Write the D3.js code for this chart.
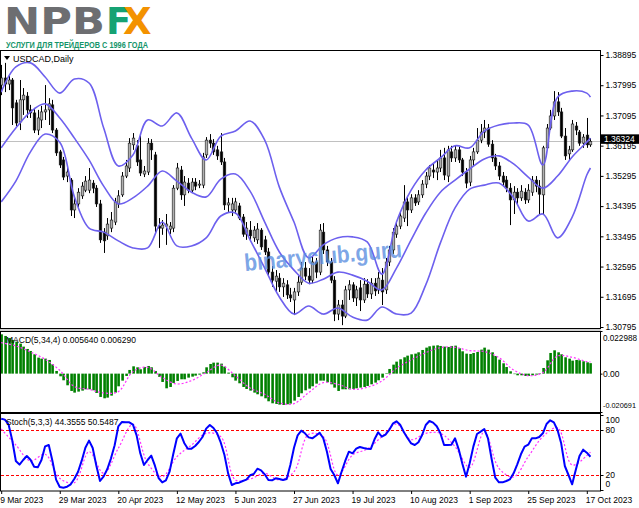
<!DOCTYPE html>
<html><head><meta charset="utf-8">
<script src="https://cdn.jsdelivr.net/npm/d3@7"></script>
<style>html,body{margin:0;padding:0;background:#fff;}svg{display:block;}</style>
</head><body>
<svg id="c" width="639" height="508"></svg>
<script>
// ---------- DATA ----------
const dateIdx = [0,16,32,48,64,80,96,112,128,144,160];
const dateLabels = ['9 Mar 2023','29 Mar 2023','20 Apr 2023','12 May 2023','5 Jun 2023','27 Jun 2023','19 Jul 2023','10 Aug 2023','1 Sep 2023','25 Sep 2023','17 Oct 2023'];
const priceTicks = [1.38895,1.37995,1.37095,1.36195,1.35295,1.34395,1.33495,1.32595,1.31695,1.30795];
const macdTicks = [0.022988,0,-0.020691];
const stochTicks = [100,80,20,0];
const lastPrice = 1.36324;

const open = [
1.3800,1.3821,1.3803,1.3815,1.3747,1.3690,1.3756,1.3767,1.3726,1.3717,
1.3666,1.3696,1.3720,1.3726,1.3741,1.3666,1.3601,1.3577,1.3529,1.3517,
1.3428,1.3446,1.3470,1.3487,1.3487,1.3508,1.3493,1.3446,1.3362,1.3351,
1.3374,1.3392,1.3446,1.3473,1.3529,1.3553,1.3622,1.3619,1.3577,1.3535,
1.3541,1.3627,1.3592,1.3380,1.3374,1.3380,1.3371,1.3374,1.3493,1.3547,
1.3473,1.3508,1.3487,1.3511,1.3502,1.3502,1.3592,1.3636,1.3627,1.3607,
1.3601,1.3571,1.3443,1.3428,1.3428,1.3440,1.3407,1.3356,1.3368,1.3345,
1.3339,1.3368,1.3339,1.3303,1.3243,1.3216,1.3225,1.3199,1.3205,1.3175,
1.3160,1.3184,1.3213,1.3255,1.3231,1.3219,1.3273,1.3243,1.3362,1.3309,
1.3273,1.3219,1.3118,1.3145,1.3112,1.3190,1.3205,1.3166,1.3196,1.3160,
1.3207,1.3178,1.3210,1.3190,1.3219,1.3190,1.3273,1.3309,1.3356,1.3380,
1.3404,1.3452,1.3428,1.3464,1.3452,1.3473,1.3505,1.3529,1.3547,1.3541,
1.3553,1.3583,1.3529,1.3601,1.3583,1.3607,1.3577,1.3541,1.3511,1.3577,
1.3601,1.3636,1.3660,1.3672,1.3624,1.3583,1.3559,1.3529,1.3517,1.3493,
1.3458,1.3481,1.3464,1.3481,1.3458,1.3481,1.3517,1.3499,1.3473,1.3613,
1.3672,1.3708,1.3750,1.3720,1.3648,1.3595,1.3607,1.3678,1.3660,1.3627,
1.3651,1.3622];
const high = [
1.3860,1.3866,1.3827,1.3821,1.3756,1.3815,1.3791,1.3779,1.3741,1.3732,
1.3726,1.3738,1.3800,1.3761,1.3756,1.3672,1.3607,1.3586,1.3562,1.3523,
1.3464,1.3493,1.3511,1.3529,1.3553,1.3517,1.3502,1.3458,1.3374,1.3404,
1.3422,1.3464,1.3487,1.3541,1.3577,1.3642,1.3657,1.3636,1.3657,1.3559,
1.3642,1.3639,1.3601,1.3404,1.3398,1.3416,1.3392,1.3502,1.3568,1.3559,
1.3529,1.3523,1.3523,1.3523,1.3517,1.3598,1.3645,1.3654,1.3639,1.3619,
1.3657,1.3583,1.3464,1.3464,1.3464,1.3449,1.3416,1.3392,1.3395,1.3380,
1.3389,1.3374,1.3351,1.3315,1.3261,1.3249,1.3240,1.3225,1.3219,1.3196,
1.3196,1.3231,1.3273,1.3273,1.3255,1.3288,1.3285,1.3386,1.3389,1.3321,
1.3285,1.3231,1.3160,1.3160,1.3202,1.3219,1.3213,1.3202,1.3219,1.3225,
1.3222,1.3225,1.3225,1.3243,1.3255,1.3285,1.3321,1.3374,1.3392,1.3422,
1.3502,1.3470,1.3475,1.3475,1.3487,1.3517,1.3541,1.3562,1.3568,1.3577,
1.3607,1.3613,1.3619,1.3619,1.3619,1.3616,1.3583,1.3553,1.3589,1.3613,
1.3672,1.3684,1.3696,1.3684,1.3636,1.3595,1.3571,1.3541,1.3529,1.3508,
1.3499,1.3493,1.3502,1.3493,1.3505,1.3529,1.3529,1.3517,1.3619,1.3684,
1.3726,1.3782,1.3779,1.3732,1.3672,1.3619,1.3696,1.3690,1.3666,1.3654,
1.3702,1.3642];
const low = [
1.3770,1.3779,1.3785,1.3681,1.3678,1.3666,1.3711,1.3702,1.3702,1.3657,
1.3651,1.3672,1.3696,1.3681,1.3657,1.3589,1.3553,1.3517,1.3511,1.3410,
1.3404,1.3437,1.3461,1.3481,1.3478,1.3478,1.3437,1.3330,1.3300,1.3339,
1.3362,1.3383,1.3434,1.3467,1.3523,1.3541,1.3607,1.3559,1.3529,1.3526,
1.3532,1.3577,1.3362,1.3315,1.3354,1.3324,1.3356,1.3362,1.3487,1.3458,
1.3440,1.3478,1.3481,1.3487,1.3493,1.3493,1.3583,1.3613,1.3592,1.3577,
1.3562,1.3428,1.3422,1.3410,1.3416,1.3398,1.3348,1.3339,1.3339,1.3333,
1.3327,1.3309,1.3294,1.3234,1.3199,1.3181,1.3184,1.3169,1.3163,1.3154,
1.3115,1.3172,1.3205,1.3219,1.3207,1.3210,1.3225,1.3234,1.3297,1.3261,
1.3210,1.3097,1.3100,1.3085,1.3106,1.3160,1.3154,1.3142,1.3127,1.3151,
1.3166,1.3163,1.3172,1.3178,1.3145,1.3178,1.3261,1.3297,1.3345,1.3371,
1.3392,1.3380,1.3419,1.3440,1.3443,1.3464,1.3493,1.3517,1.3523,1.3517,
1.3541,1.3517,1.3511,1.3571,1.3571,1.3568,1.3529,1.3493,1.3499,1.3559,
1.3595,1.3627,1.3642,1.3616,1.3571,1.3547,1.3517,1.3499,1.3481,1.3383,
1.3416,1.3443,1.3455,1.3446,1.3449,1.3470,1.3481,1.3413,1.3413,1.3607,
1.3666,1.3696,1.3708,1.3642,1.3577,1.3574,1.3601,1.3651,1.3619,1.3613,
1.3613,1.3616];
const close = [
1.3821,1.3803,1.3815,1.3732,1.3687,1.3756,1.3770,1.3726,1.3717,1.3666,
1.3702,1.3720,1.3726,1.3744,1.3666,1.3598,1.3562,1.3526,1.3541,1.3428,
1.3446,1.3481,1.3499,1.3514,1.3517,1.3493,1.3446,1.3339,1.3336,1.3386,
1.3398,1.3452,1.3470,1.3529,1.3559,1.3627,1.3642,1.3571,1.3538,1.3544,
1.3627,1.3607,1.3380,1.3374,1.3383,1.3386,1.3380,1.3493,1.3553,1.3473,
1.3511,1.3487,1.3511,1.3499,1.3505,1.3586,1.3636,1.3627,1.3601,1.3589,
1.3571,1.3443,1.3449,1.3446,1.3452,1.3404,1.3356,1.3374,1.3351,1.3368,
1.3371,1.3318,1.3303,1.3243,1.3219,1.3231,1.3199,1.3210,1.3175,1.3166,
1.3184,1.3213,1.3255,1.3231,1.3219,1.3273,1.3243,1.3368,1.3309,1.3273,
1.3219,1.3118,1.3145,1.3112,1.3190,1.3205,1.3166,1.3190,1.3160,1.3207,
1.3178,1.3210,1.3187,1.3225,1.3184,1.3273,1.3309,1.3362,1.3380,1.3410,
1.3452,1.3428,1.3464,1.3449,1.3473,1.3505,1.3529,1.3553,1.3541,1.3553,
1.3583,1.3532,1.3607,1.3583,1.3607,1.3577,1.3541,1.3508,1.3577,1.3601,
1.3636,1.3660,1.3672,1.3624,1.3583,1.3559,1.3529,1.3511,1.3493,1.3458,
1.3481,1.3464,1.3484,1.3458,1.3487,1.3517,1.3499,1.3475,1.3613,1.3672,
1.3708,1.3750,1.3720,1.3648,1.3589,1.3607,1.3684,1.3666,1.3627,1.3645,
1.3622,1.36324];

// Bollinger bands, read every 4 bars
const bandIdx = [0,4,8,12,16,20,24,28,32,36,40,44,48,52,56,60,64,68,72,76,80,84,88,92,96,100,104,108,112,116,120,124,128,132,136,140,144,148,152,156,160,161];
const bbUpper = [1.3779,1.3854,1.3866,1.3824,1.3776,1.3818,1.3806,1.3672,1.3559,1.3592,1.3696,1.3678,1.3717,1.3642,1.3577,1.3648,1.3663,1.3693,1.3636,1.3496,1.3392,1.3285,1.3324,1.3345,1.3348,1.3333,1.3237,1.3392,1.3487,1.3547,1.3583,1.3619,1.3613,1.3663,1.3681,1.3687,1.3681,1.3562,1.3764,1.3782,1.3776,1.3764];
const bbMid = [1.3613,1.3672,1.3720,1.3744,1.3702,1.3642,1.3577,1.3499,1.3446,1.3464,1.3499,1.3544,1.3514,1.3481,1.3467,1.3520,1.3535,1.3484,1.3392,1.3303,1.3249,1.3210,1.3222,1.3243,1.3234,1.3216,1.3190,1.3255,1.3339,1.3419,1.3481,1.3517,1.3550,1.3580,1.3589,1.3565,1.3526,1.3493,1.3529,1.3586,1.3630,1.3642];
const bbLower = [1.3452,1.3514,1.3601,1.3654,1.3630,1.3467,1.3374,1.3362,1.3336,1.3315,1.3315,1.3392,1.3321,1.3321,1.3345,1.3410,1.3419,1.3339,1.3255,1.3169,1.3118,1.3142,1.3118,1.3136,1.3109,1.3100,1.3139,1.3118,1.3121,1.3205,1.3330,1.3434,1.3490,1.3502,1.3508,1.3464,1.3395,1.3416,1.3345,1.3407,1.3532,1.3553];

// MACD(5,34,4)
const macdHist = [
0.02120,0.02031,0.01923,0.01815,0.01725,0.01617,0.01456,0.01330,0.01222,0.01042,
0.00863,0.00809,0.00809,0.00737,0.00503,0.00144,-0.00144,-0.00359,-0.00629,-0.00934,
-0.01024,-0.00970,-0.00916,-0.00845,-0.00845,-0.00899,-0.01042,-0.01258,-0.01330,-0.01294,
-0.01186,-0.01024,-0.00683,-0.00377,-0.00126,0.00198,0.00395,0.00341,0.00234,0.00359,
0.00413,0.00341,0.00144,-0.00180,-0.00449,-0.00791,-0.00719,-0.00503,-0.00395,-0.00305,
-0.00305,-0.00216,-0.00162,-0.00108,-0.00054,0.00072,0.00341,0.00521,0.00593,0.00593,
0.00539,0.00377,0.00054,-0.00198,-0.00377,-0.00521,-0.00719,-0.00827,-0.00916,-0.01024,
-0.01114,-0.01222,-0.01330,-0.01492,-0.01599,-0.01635,-0.01671,-0.01689,-0.01653,-0.01617,
-0.01456,-0.01258,-0.01060,-0.00899,-0.00809,-0.00683,-0.00539,-0.00377,-0.00377,-0.00467,
-0.00575,-0.00755,-0.00934,-0.00845,-0.00845,-0.00845,-0.00827,-0.00791,-0.00755,-0.00719,
-0.00665,-0.00575,-0.00485,-0.00359,-0.00216,0.00020,0.00252,0.00485,0.00647,0.00773,
0.00881,0.00970,0.01042,0.01078,0.01150,0.01276,0.01402,0.01474,0.01509,0.01527,
0.01492,0.01456,0.01438,0.01492,0.01509,0.01366,0.01204,0.01078,0.01060,0.01114,
0.01168,0.01294,0.01402,0.01294,0.01150,0.00952,0.00755,0.00557,0.00359,0.00126,
-0.00018,-0.00090,-0.00090,-0.00126,-0.00126,-0.00090,-0.00054,0.00018,0.00305,0.00719,
0.01114,0.01258,0.01150,0.01042,0.00881,0.00809,0.00701,0.00737,0.00719,0.00665,
0.00611,0.00564];
const macdSignal = [0.01671,0.01492,0.01168,0.00773,0.00180,-0.00701,-0.00845,-0.01042,-0.00970,0.00108,0.00341,-0.00216,-0.00557,-0.00377,0.00054,0.00467,-0.00126,-0.00773,-0.01114,-0.01581,-0.01617,-0.01024,-0.00485,-0.00575,-0.00845,-0.00737,-0.00395,0.00288,0.00737,0.01132,0.01402,0.01420,0.01240,0.01186,0.00863,0.00198,-0.00108,0.00054,0.00952,0.00881,0.00647,0.00629];

// Stochastic(5,3,3)
const stochK = [
95.1,93.8,87.6,66.7,38.7,33.8,40,45.3,40.4,31.1,
30.2,40,58.2,60,38.7,13.8,4,3.1,4.4,7.6,
15.1,24.4,39.1,56.4,65.8,56,32.4,12,18.2,28,
42.2,59.6,84.9,90.7,90.2,90.2,87.1,72.9,48.9,33.3,
40,45.8,32.4,16,10.2,12.9,24.4,47.6,68.9,75.1,
62.7,55.1,55.1,58.7,64,70.7,81.8,86.7,82.7,75.6,
63.1,46.7,22.2,6.7,8.9,9.8,12,13.8,19.6,21.3,
28.4,26.2,20.9,13.3,12.9,15.6,14.7,13.3,14.7,33.3,
56.4,72.9,79.1,75.6,70.2,68.9,72.4,76.4,68.9,51.1,
28,20,8.9,24.4,38.7,51.1,48.9,55.1,57.3,56,
55.1,54.7,67.6,76.9,71.1,73.8,80,88.4,91.6,87.1,
77.3,69.3,62.2,60,63.6,73.3,86.7,92,89.8,84.9,
75.6,60,60,60.4,68.9,54.2,35.1,17.8,35.6,57.8,
74.7,77.8,81.3,68.9,41.3,16.4,10.2,10.2,12,14.2,
22.2,34.2,47.6,57.8,60.4,68.9,68.9,70.7,75.6,88,
92.9,90.2,80,62.2,32,20,7.6,27,45.3,53.8,
49.8,44.36];
const stochD = [81.3,60,38.7,47.6,15.6,9.8,51.1,22.2,55.6,87.6,35.6,17.8,44.4,60,75.6,71.1,13.3,14.7,22.2,13.3,24.4,74.2,71.1,20,46.7,54.7,71.1,88,67.1,75.6,75.6,57.8,30.2,77.8,28.9,17.3,44.4,71.1,83,33.3,45.8,50.55];

// ---------- DRAWING ----------
const svg = d3.select('#c');
const FONT = '"Liberation Sans", Arial, sans-serif';
const n = close.length;

const x = d3.scaleLinear().domain([0, n - 1]).range([1.2, 1.2 + (n - 1) * 3.66]);
const yP = d3.scaleLinear().domain([1.30795, 1.38895]).range([327, 55]);
const yM = d3.scaleLinear().domain([-0.020691, 0.022988]).range([412, 331]);
const yS = d3.scaleLinear().domain([0, 100]).range([490, 415]);

const defs = svg.append('defs');
function clip(id, y0, y1) {
  defs.append('clipPath').attr('id', id).append('rect')
    .attr('x', 1).attr('y', y0).attr('width', 599).attr('height', y1 - y0);
}
clip('cm', 51, 328); clip('cd', 332, 412); clip('cs', 414, 491);

// Logo
svg.append('text').attr('x', 4).attr('y', 34).text('NPB')
  .attr('font-family', '"DejaVu Sans", sans-serif').attr('font-weight', 'bold')
  .attr('font-size', 37).attr('fill', '#6d6e71')
  .attr('textLength', 101).attr('lengthAdjust', 'spacingAndGlyphs');
svg.append('text').attr('x', 106).attr('y', 34).text('F')
  .attr('font-family', '"DejaVu Sans", sans-serif').attr('font-weight', 'bold')
  .attr('font-size', 37).attr('fill', '#16a273');
svg.append('text').attr('x', 123).attr('y', 34).text('X')
  .attr('font-family', '"DejaVu Sans", sans-serif').attr('font-weight', 'bold')
  .attr('font-size', 37).attr('fill', '#f39200');
svg.append('text').attr('x', 6).attr('y', 47.5).text('УСЛУГИ ДЛЯ ТРЕЙДЕРОВ С 1996 ГОДА')
  .attr('font-family', FONT).attr('font-weight', 'bold').attr('font-size', 9.5)
  .attr('fill', '#14956a').attr('textLength', 142).attr('lengthAdjust', 'spacingAndGlyphs');

// Panel frames
svg.append('rect').attr('x', 0).attr('y', 328.5).attr('width', 601).attr('height', 3).attr('fill', '#d0d0d0');
svg.append('rect').attr('x', 0).attr('y', 412.5).attr('width', 601).attr('height', 1.5).attr('fill', '#d0d0d0');
[[50.5, 328.5], [331.5, 412.5], [413.5, 491]].forEach(([a, b]) => {
  svg.append('rect').attr('x', 0.5).attr('y', a).attr('width', 600).attr('height', b - a)
    .attr('fill', 'none').attr('stroke', '#000').attr('stroke-width', 1);
});

// ---- Main panel ----
const gm = svg.append('g').attr('clip-path', 'url(#cm)');
gm.append('line').attr('x1', 0).attr('x2', 600).attr('y1', Math.round(yP(lastPrice)) + 0.5).attr('y2', Math.round(yP(lastPrice)) + 0.5)
  .attr('stroke', '#c0c0c0').attr('stroke-width', 1);

svg.append('path').attr('d', 'M4,56 L10,56 L7,60 Z').attr('fill', '#000');
svg.append('text').attr('x', 13).attr('y', 61.5).text('USDCAD,Daily')
  .attr('font-family', FONT).attr('font-size', 9).attr('fill', '#000');

const idx = d3.range(n);
gm.selectAll('line.wick').data(idx).join('line')
  .attr('x1', i => Math.round(x(i)) + 0.5).attr('x2', i => Math.round(x(i)) + 0.5)
  .attr('y1', i => yP(high[i])).attr('y2', i => yP(low[i]))
  .attr('stroke', '#000').attr('stroke-width', 1);
gm.selectAll('rect.body').data(idx).join('rect')
  .attr('x', i => Math.round(x(i)) - 0.8)
  .attr('width', 2.6)
  .attr('y', i => Math.min(yP(open[i]), yP(close[i])))
  .attr('height', i => Math.max(1, Math.abs(yP(open[i]) - yP(close[i]))))
  .attr('fill', i => close[i] >= open[i] ? '#b0b0b0' : '#000')
  .attr('stroke', '#1a1a1a').attr('stroke-width', 0.6);

const bandLine = arr => d3.line().x((d, k) => x(bandIdx[k])).y(d => yP(d)).curve(d3.curveCatmullRom.alpha(0.5))(arr);
[bbUpper, bbMid, bbLower].forEach(arr => {
  gm.append('path').attr('d', bandLine(arr)).attr('fill', 'none')
    .attr('stroke', '#6d60ee').attr('stroke-width', 1.6);
});

svg.append('text').attr('x', 245).attr('y', 271).text('binaryclub.guru')
  .attr('transform', 'rotate(-5,245,271)')
  .attr('font-family', FONT).attr('font-weight', 'bold').attr('font-size', 24)
  .attr('fill', '#5a8ee0').attr('fill-opacity', 0.8)
  .attr('textLength', 158).attr('lengthAdjust', 'spacingAndGlyphs');

const axP = d3.axisRight(yP).tickValues(priceTicks).tickSize(3).tickPadding(2).tickFormat(d3.format('.5f'));
svg.append('g').attr('transform', 'translate(600.5,0)').call(axP)
  .attr('font-family', FONT).attr('font-size', 8.5).attr('color', '#000')
  .call(g => g.select('.domain').remove());

const yl = yP(lastPrice);
svg.append('rect').attr('x', 601).attr('y', yl - 7).attr('width', 38).attr('height', 9.5).attr('fill', '#000');
svg.append('text').attr('x', 604).attr('y', yl + 0.5).text(lastPrice.toFixed(5))
  .attr('font-family', FONT).attr('font-size', 8.5).attr('fill', '#fff');

// ---- MACD panel ----
const gd = svg.append('g').attr('clip-path', 'url(#cd)');
svg.append('text').attr('x', 6).attr('y', 343).text('MACD(5,34,4) 0.005640 0.006290')
  .attr('font-family', FONT).attr('font-size', 8.5).attr('fill', '#000');
gd.selectAll('rect.h').data(idx).join('rect')
  .attr('x', i => Math.round(x(i)) - 0.7).attr('width', 2.6)
  .attr('y', i => Math.min(yM(0), yM(macdHist[i])))
  .attr('height', i => Math.max(0.5, Math.abs(yM(macdHist[i]) - yM(0))))
  .attr('fill', '#008000');
gd.append('path')
  .attr('d', d3.line().x((d, k) => x(bandIdx[k])).y(d => yM(d)).curve(d3.curveCatmullRom.alpha(0.5))(macdSignal))
  .attr('fill', 'none').attr('stroke', '#ff33ff').attr('stroke-width', 1.2).attr('stroke-dasharray', '2,2');
const axM = d3.axisRight(yM).tickValues(macdTicks).tickSize(2).tickPadding(0.5)
  .tickFormat(d => d === 0 ? '0.00' : d.toFixed(6));
svg.append('g').attr('transform', 'translate(600.5,0)').call(axM)
  .attr('font-family', FONT).attr('font-size', 8.5).attr('color', '#000')
  .call(g => g.select('.domain').remove())
  .call(g => g.selectAll('.tick text').attr('y', d => d > 0 ? 7 : (d < 0 ? -7 : 0))
    .each(function (d) {
      if (d > 0) d3.select(this).attr('textLength', 34).attr('lengthAdjust', 'spacingAndGlyphs');
      if (d < 0) d3.select(this).attr('font-size', 7.6).attr('textLength', 33).attr('lengthAdjust', 'spacingAndGlyphs');
    }));

// ---- Stochastic panel ----
const gs = svg.append('g').attr('clip-path', 'url(#cs)');
svg.append('text').attr('x', 6).attr('y', 425).text('Stoch(5,3,3) 44.3555 50.5487')
  .attr('font-family', FONT).attr('font-size', 8.5).attr('fill', '#000');
[80, 20].forEach(v => {
  gs.append('line').attr('x1', 1).attr('x2', 600).attr('y1', Math.round(yS(v)) + 0.5).attr('y2', Math.round(yS(v)) + 0.5)
    .attr('stroke', '#ff0000').attr('stroke-width', 1).attr('stroke-dasharray', '3,2');
});
gs.append('path')
  .attr('d', d3.line().x((d, k) => x(bandIdx[k])).y(d => yS(d)).curve(d3.curveCatmullRom.alpha(0.5))(stochD))
  .attr('fill', 'none').attr('stroke', '#ff33ff').attr('stroke-width', 1.2).attr('stroke-dasharray', '2,2');
gs.append('path')
  .attr('d', d3.line().x((d, i) => x(i)).y(d => yS(d))(stochK))
  .attr('fill', 'none').attr('stroke', '#0000ff').attr('stroke-width', 2).attr('stroke-linejoin', 'round');
const axS = d3.axisRight(yS).tickValues(stochTicks).tickSize(3).tickPadding(2).tickFormat(d => String(d));
svg.append('g').attr('transform', 'translate(600.5,0)').call(axS)
  .attr('font-family', FONT).attr('font-size', 8.5).attr('color', '#000')
  .call(g => g.select('.domain').remove())
  .call(g => g.selectAll('.tick text').attr('y', d => d === 100 ? 5 : (d === 0 ? -6 : 0)));

const axX = d3.axisBottom(x).tickValues(dateIdx).tickSize(3).tickPadding(3)
  .tickFormat(d => dateLabels[dateIdx.indexOf(d)]);
svg.append('g').attr('transform', 'translate(0,491)').call(axX)
  .attr('font-family', FONT).attr('font-size', 8.5).attr('color', '#000')
  .call(g => g.select('.domain').remove())
  .call(g => g.selectAll('.tick text').attr('text-anchor', 'start').attr('x', -1.5));
</script>
</body></html>
